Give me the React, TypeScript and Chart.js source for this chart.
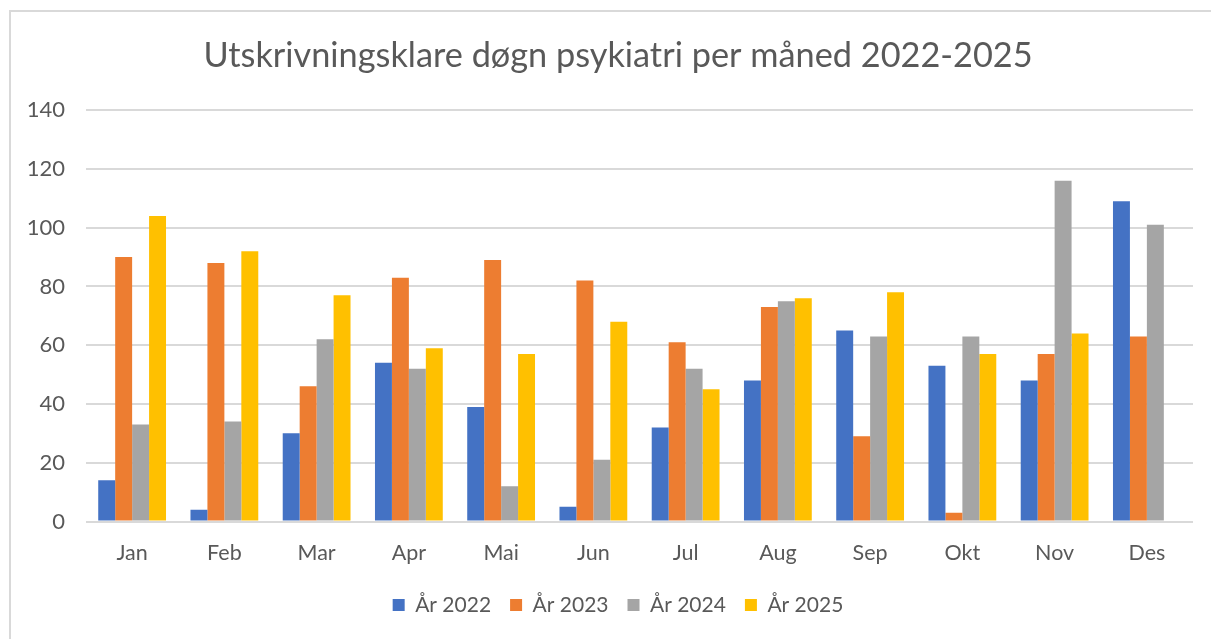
import React, { useEffect, useRef } from "react";
import { Chart, registerables } from "chart.js";

Chart.register(...registerables);

const categories = ["Jan", "Feb", "Mar", "Apr", "Mai", "Jun", "Jul", "Aug", "Sep", "Okt", "Nov", "Des"];
const seriesNames = ["År 2022", "År 2023", "År 2024", "År 2025"];
const values2022 = [14, 4, 30, 54, 39, 5, 32, 48, 65, 53, 48, 109];
const values2023 = [90, 88, 46, 83, 89, 82, 61, 73, 29, 3, 57, 63];
const values2024 = [33, 34, 62, 52, 12, 21, 52, 75, 63, 63, 116, 101];
const values2025 = [104, 92, 77, 59, 57, 68, 45, 76, 78, 57, 64, null];
const seriesColors = ["#4472C4", "#ED7D31", "#A5A5A5", "#FFC000"];
const titleText = "Utskrivningsklare døgn psykiatri per måned 2022-2025";
const yMin = 0;
const yMax = 140;
const yStep = 20;

const FONT = "Lato, 'Open Sans', sans-serif";
const TEXT = "#595959";
const CANVAS_W = 1236;
const CANVAS_H = 639;

export default function App() {
  const ref = useRef<HTMLCanvasElement | null>(null);

  useEffect(() => {
    document.body.style.margin = "0";
    const canvas = ref.current;
    if (!canvas) return;
    const all = [values2022, values2023, values2024, values2025];
    const chart = new Chart(canvas, {
      type: "bar",
      data: {
        labels: categories,
        datasets: all.map((vals, i) => ({
          label: seriesNames[i],
          data: vals,
          backgroundColor: seriesColors[i],
          borderWidth: 0,
          categoryPercentage: 0.735,
          barPercentage: 1,
        })),
      },
      options: {
        animation: false,
        responsive: false,
        layout: { padding: { left: 0, right: 0, top: 0, bottom: 13.5 } },
        plugins: {
          title: {
            display: true,
            text: titleText,
            color: TEXT,
            font: { family: FONT, size: 34.3, weight: "normal" },
            padding: { top: 35.5, bottom: 33.5 },
          },
          legend: {
            position: "bottom",
            labels: {
              color: TEXT,
              font: { family: FONT, size: 21 },
              boxWidth: 12,
              boxHeight: 12,
              padding: 19,
            },
          },
          tooltip: { enabled: false },
        },
        scales: {
          x: {
            grid: { display: false },
            border: { display: false },
            ticks: {
              color: TEXT,
              font: { family: FONT, size: 21.5 },
              padding: 11,
              maxRotation: 0,
            },
            afterFit: (s: any) => {
              s.height = 54;
            },
          },
          y: {
            min: yMin,
            max: yMax,
            grid: { color: "#d9d9d9", lineWidth: 2, drawTicks: false },
            border: { display: false },
            ticks: {
              stepSize: yStep,
              color: TEXT,
              font: { family: FONT, size: 22 },
              padding: 21,
            },
            afterFit: (s: any) => {
              s.width = 86;
            },
          },
          ySpacer: {
            position: "right",
            display: true,
            grid: { display: false },
            border: { display: false },
            ticks: { display: false },
            afterFit: (s: any) => {
              s.width = 43;
            },
          },
        },
      },
    });
    return () => chart.destroy();
  }, []);

  return (
    <div
      style={{
        position: "fixed",
        left: 0,
        top: 0,
        width: 1211,
        height: 639,
        background: "#fff",
        overflow: "hidden",
      }}
    >
      <div
        style={{
          position: "absolute",
          left: 9,
          top: 10,
          width: 1240,
          height: 700,
          border: "2px solid #d9d9d9",
          boxSizing: "border-box",
        }}
      />
      <canvas
        ref={ref}
        width={CANVAS_W}
        height={CANVAS_H}
        style={{ position: "absolute", left: 0, top: 0, width: CANVAS_W, height: CANVAS_H }}
      />
    </div>
  );
}
